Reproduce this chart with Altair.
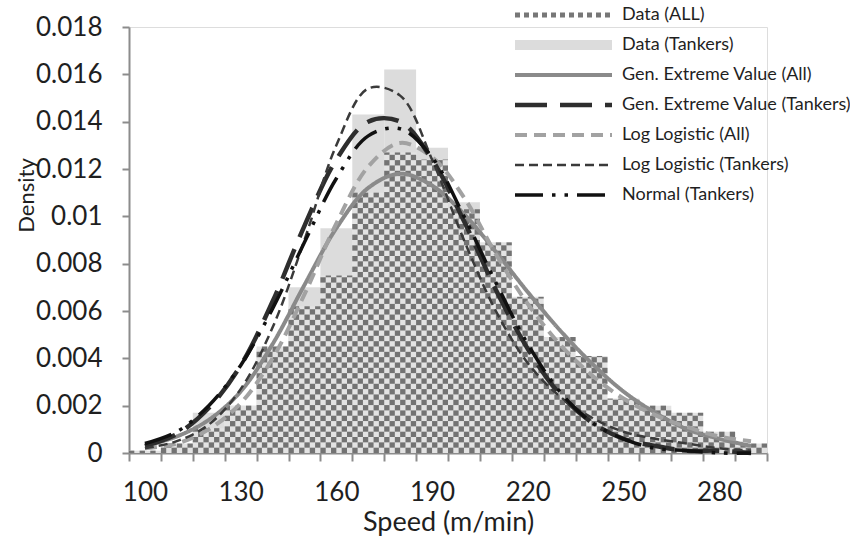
import math
import altair as alt
import pandas as pd

# ---------------- data ----------------
speed_bins = [100, 110, 120, 130, 140, 150, 160, 170, 180, 190,
              200, 210, 220, 230, 240, 250, 260, 270, 280, 290]

data_all = [0.0001, 0.0004, 0.00105, 0.0020, 0.0045, 0.0062, 0.0075, 0.0110, 0.0127, 0.0124,
            0.0103, 0.0089, 0.0066, 0.0049, 0.0041, 0.0023, 0.0020, 0.0017, 0.0009, 0.0004]
data_tankers = [0.0, 0.0003, 0.0017, 0.0020, 0.0044, 0.0070, 0.0095, 0.0143, 0.0162, 0.0129,
                0.0106, 0.0078, 0.0052, 0.0033, 0.0020, 0.0011, 0.0006, 0.0003, 0.0001, 0.0]

gev_all = [0.0003, 0.0007, 0.0014, 0.0026, 0.0046, 0.0071, 0.0095, 0.0112, 0.0118, 0.0113,
           0.0101, 0.0085, 0.0068, 0.0052, 0.0038, 0.0026, 0.0017, 0.0010, 0.0006, 0.0003]
gev_tankers = [0.0003, 0.0008, 0.0019, 0.0037, 0.0064, 0.0096, 0.0124, 0.0140, 0.0140, 0.0124,
               0.0098, 0.0069, 0.0044, 0.0025, 0.0013, 0.0006, 0.0003, 0.0001, 0.0001, 0.0]
ll_all = [0.0002, 0.0004, 0.0010, 0.0021, 0.0040, 0.0067, 0.0097, 0.0121, 0.0131, 0.0125,
          0.0108, 0.0084, 0.0063, 0.0046, 0.0033, 0.0023, 0.0016, 0.0011, 0.0007, 0.0005]
ll_tankers = [0.0002, 0.0005, 0.0012, 0.0027, 0.0053, 0.0090, 0.0130, 0.0154, 0.0151, 0.0124,
              0.0090, 0.0060, 0.0038, 0.0024, 0.0015, 0.0009, 0.0006, 0.0004, 0.0002, 0.0001]
normal_tankers = [0.0004, 0.0009, 0.0020, 0.0037, 0.0061, 0.0089, 0.0116, 0.0134, 0.0137, 0.0125,
                  0.0100, 0.0072, 0.0046, 0.0026, 0.0013, 0.0006, 0.0002, 0.0001, 0.0, 0.0]

series_names = ["Data (ALL)", "Data (Tankers)", "Gen. Extreme Value (All)",
                "Gen. Extreme Value (Tankers)", "Log Logistic (All)",
                "Log Logistic (Tankers)", "Normal (Tankers)"]

x_label_values = [100, 130, 160, 190, 220, 250, 280]
y_tick_values = [0, 0.002, 0.004, 0.006, 0.008, 0.01, 0.012, 0.014, 0.016, 0.018]
bin_width = 10

# ---------------- styles ----------------
series_colors = ["#777777", "#dcdcdc", "#8a8a8a", "#2e2e2e", "#a2a2a2", "#3a3a3a", "#111111"]
series_dash = [[5, 4], [1, 0], [1, 0], [32, 13], [12, 7], [9, 5], [28, 9, 3.5, 9, 3.5, 9]]
series_width = [5, 10, 4, 4.5, 4, 2.5, 3.5]

CHECK_LIGHT = "#e3e3e3"
CHECK_DARK = "#737373"
CHECK_COLS = 6        # checker squares across one bin
CHECK_ROWS = 80       # checker squares over the full y range

FONT = "Lato"
TEXT = "#1f1f1f"
AXIS = "#8c8c8c"

# ---------------- tables ----------------
half = bin_width // 2
hist = pd.DataFrame({"speed": speed_bins, "all": data_all, "tankers": data_tankers})

# checker pattern (fill style of the "Data (ALL)" bars), derived from the bar heights
cell_w = bin_width / CHECK_COLS
cell_h = (y_tick_values[-1] - y_tick_values[0]) / CHECK_ROWS
cells = []
for s, h in zip(speed_bins, data_all):
    n_rows = math.ceil(h / cell_h - 1e-9)
    for r in range(n_rows):
        for c in range(CHECK_COLS):
            if (r + c) % 2 == 0:
                cells.append({
                    "x0": s - half + c * cell_w,
                    "x1": s - half + (c + 1) * cell_w,
                    "y0": r * cell_h,
                    "y1": min((r + 1) * cell_h, h),
                })
checker = pd.DataFrame(cells)

curve_sets = [
    ("Gen. Extreme Value (All)", gev_all),
    ("Log Logistic (All)", ll_all),
    ("Gen. Extreme Value (Tankers)", gev_tankers),
    ("Log Logistic (Tankers)", ll_tankers),
    ("Normal (Tankers)", normal_tankers),
]
curves = pd.concat(
    [pd.DataFrame({"speed": speed_bins, "density": vals, "series": name, "order": i})
     for i, (name, vals) in enumerate(curve_sets)],
    ignore_index=True,
)

boundaries = [b - half for b in speed_bins] + [speed_bins[-1] + half]
label_bounds = [v - half for v in x_label_values]
x_label_expr = (
    "indexof([" + ",".join(str(v) for v in label_bounds) + "], datum.value) >= 0 ? "
    f"format(datum.value + {half}, 'd') : ''"
)

PLOT_W = 638
PLOT_H = 426

x_scale = alt.Scale(domain=[boundaries[0], boundaries[-1]], nice=False, zero=False)
y_scale = alt.Scale(domain=[y_tick_values[0], y_tick_values[-1]], nice=False)

x_axis = alt.Axis(
    values=boundaries, labelExpr=x_label_expr, labelOffset=PLOT_W / (2 * len(speed_bins)),
    labelFlush=False, labelOverlap=False, grid=False,
    tickSize=8, tickWidth=2, tickColor=AXIS, domainColor=AXIS, domainWidth=2,
    labelFont=FONT, labelFontSize=26, labelColor=TEXT, labelPadding=18,
    title="Speed (m/min)", titleFont=FONT, titleFontSize=27, titleFontWeight="normal",
    titleColor=TEXT, titleY=77, titleBaseline="alphabetic",
)
y_axis = alt.Axis(
    values=y_tick_values, labelExpr="format(datum.value, '~g')", grid=False,
    tickSize=7, tickWidth=2, tickColor=AXIS, domainColor=AXIS, domainWidth=2,
    labelFont=FONT, labelFontSize=26, labelColor=TEXT, labelPadding=20,
    title="Density", titleFont=FONT, titleFontSize=22, titleFontWeight="normal",
    titleColor=TEXT, titleX=-96, titleY=168, titleAngle=270, titleAlign="center",
    titleBaseline="alphabetic",
)

legend = alt.Legend(
    title=None, orient="none", legendX=381, legendY=-24, padding=0,
    symbolType="stroke", symbolSize=9409, clipHeight=24, rowPadding=6,
    labelFont=FONT, labelFontSize=18, labelColor=TEXT, labelLimit=320, labelOffset=5,
)

hist_base = alt.Chart(hist).transform_calculate(
    lo=f"datum.speed - {half}", hi=f"datum.speed + {half}"
)

tanker_bars = hist_base.mark_rect(color=series_colors[1]).encode(
    x=alt.X("lo:Q", scale=x_scale, axis=x_axis),
    x2="hi:Q",
    y=alt.Y("tankers:Q", scale=y_scale, axis=y_axis),
    y2=alt.datum(0),
)

all_bars = hist_base.mark_rect(color=CHECK_LIGHT).encode(
    x=alt.X("lo:Q", scale=x_scale, axis=x_axis),
    x2="hi:Q",
    y=alt.Y("all:Q", scale=y_scale, axis=y_axis),
    y2=alt.datum(0),
)

checker_cells = alt.Chart(checker).mark_rect(color=CHECK_DARK).encode(
    x=alt.X("x0:Q", scale=x_scale, axis=x_axis),
    x2="x1:Q",
    y=alt.Y("y1:Q", scale=y_scale, axis=y_axis),
    y2="y0:Q",
)

lines = alt.Chart(curves).mark_line(interpolate="catmull-rom").encode(
    x=alt.X("speed:Q", scale=x_scale, axis=x_axis),
    y=alt.Y("density:Q", scale=y_scale, axis=y_axis),
    color=alt.Color("series:N", scale=alt.Scale(type="ordinal", domain=series_names, range=series_colors),
                    legend=legend),
    strokeDash=alt.StrokeDash("series:N", scale=alt.Scale(type="ordinal", domain=series_names, range=series_dash),
                              legend=legend),
    strokeWidth=alt.StrokeWidth("series:N", scale=alt.Scale(type="ordinal", domain=series_names, range=series_width),
                                legend=legend),
    order=alt.Order("order:Q"),
)

chart = (
    alt.layer(tanker_bars, all_bars, checker_cells, lines)
    .properties(
        width=PLOT_W, height=PLOT_H,
        autosize=alt.AutoSizeParams(type="none"),
        padding={"left": 129, "top": 27, "right": 83, "bottom": 84},
        background="white",
    )
    .configure_view(stroke=None)
    .configure(font=FONT)
)

chart.save("out.html", embed_options={"renderer": "svg", "actions": False})
